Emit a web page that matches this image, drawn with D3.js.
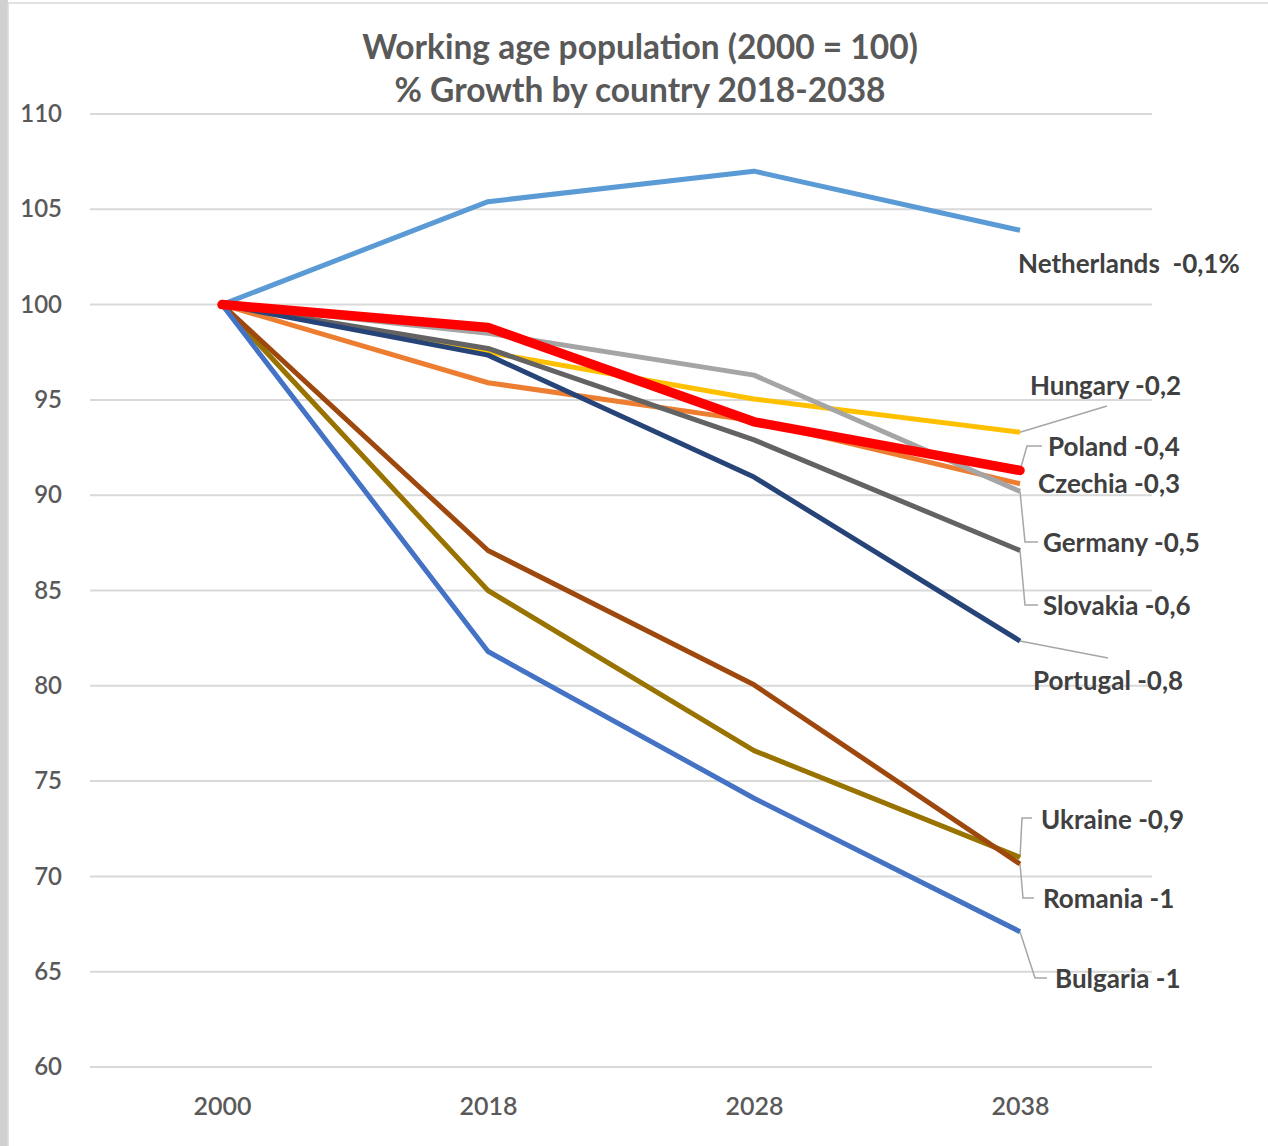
<!DOCTYPE html>
<html>
<head>
<meta charset="utf-8">
<script src="https://cdn.jsdelivr.net/npm/d3@7"></script>
<style>
  body { margin: 0; background: #fff; }
  svg { display: block; font-family: Lato, "Open Sans", sans-serif; }
</style>
</head>
<body>
<svg id="chart" width="1268" height="1146"></svg>
<script>
// Data
const years = ['2000', '2018', '2028', '2038'];
const countries = ['Netherlands', 'Hungary', 'Czechia', 'Germany', 'Slovakia', 'Portugal', 'Ukraine', 'Romania', 'Bulgaria', 'Poland'];
const values = {
  Netherlands: [100, 105.4, 107.0, 103.9],
  Hungary:     [100, 97.5, 95.05, 93.3],
  Czechia:     [100, 95.9, 93.9, 90.6],
  Germany:     [100, 98.5, 96.3, 90.2],
  Slovakia:    [100, 97.7, 92.9, 87.1],
  Portugal:    [100, 97.35, 90.95, 82.35],
  Ukraine:     [100, 85.0, 76.6, 71.0],
  Romania:     [100, 87.1, 80.05, 70.65],
  Bulgaria:    [100, 81.8, 74.1, 67.1],
  Poland:      [100, 98.8, 93.85, 91.3]
};
const growthLabels = {
  Netherlands: 'Netherlands  -0,1%',
  Hungary: 'Hungary -0,2',
  Poland: 'Poland -0,4',
  Czechia: 'Czechia -0,3',
  Germany: 'Germany -0,5',
  Slovakia: 'Slovakia -0,6',
  Portugal: 'Portugal -0,8',
  Ukraine: 'Ukraine -0,9',
  Romania: 'Romania -1',
  Bulgaria: 'Bulgaria -1'
};
const yTicks = [60, 65, 70, 75, 80, 85, 90, 95, 100, 105, 110];

// Styling
const colours = {
  Netherlands: '#5b9bd5', Hungary: '#ffc000', Czechia: '#ed7d31', Germany: '#a5a5a5',
  Slovakia: '#636363', Portugal: '#264478', Ukraine: '#997300', Romania: '#9e480e',
  Bulgaria: '#4472c4', Poland: '#ff0000'
};
// label anchor (x, y) and leader path points, in pixels
const labelLayout = {
  Netherlands: { x: 1018, y: 264, leader: null },
  Hungary:  { x: 1030, y: 386, leader: [[1107, 406]] },
  Poland:   { x: 1048, y: 447, leader: [[1027, 446], [1042, 446]] },
  Czechia:  { x: 1038, y: 484, leader: null },
  Germany:  { x: 1043, y: 543, leader: [[1025, 542], [1038, 542]] },
  Slovakia: { x: 1043, y: 606, leader: [[1025, 605], [1038, 605]] },
  Portugal: { x: 1033, y: 681, leader: [[1108, 658]] },
  Ukraine:  { x: 1041, y: 820, leader: [[1022, 818], [1032, 818]] },
  Romania:  { x: 1043, y: 899, leader: [[1023, 898], [1034, 898]] },
  Bulgaria: { x: 1055, y: 979, leader: [[1035, 978], [1047, 978]] }
};

const svg = d3.select('#chart');

// outer frame
svg.append('rect').attr('x', 0).attr('y', 0).attr('width', 8).attr('height', 1146).attr('fill', '#d0d0d0');
svg.append('rect').attr('x', 8).attr('y', 3).attr('width', 1262).attr('height', 1150)
  .attr('fill', 'none').attr('stroke', '#d9d9d9').attr('stroke-width', 1.5);

const x = d3.scalePoint().domain(years).range([222, 1020]);
const y = d3.scaleLinear().domain([60, 110]).range([1067, 114]);

// gridlines
svg.append('g')
  .selectAll('line')
  .data(yTicks)
  .join('line')
  .attr('x1', 90).attr('x2', 1152)
  .attr('y1', d => y(d)).attr('y2', d => y(d))
  .attr('stroke', '#d9d9d9').attr('stroke-width', 2);

// y axis labels
const yAxis = svg.append('g')
  .attr('transform', 'translate(62,0)')
  .call(d3.axisLeft(y).tickValues(yTicks).tickSize(0).tickPadding(0));
yAxis.select('.domain').remove();
yAxis.selectAll('text')
  .attr('font-size', 24).attr('font-weight', 600).attr('fill', '#595959')
  .attr('font-family', 'Lato, sans-serif');

// x axis labels
const xAxis = svg.append('g')
  .attr('transform', 'translate(0,1097)')
  .call(d3.axisBottom(x).tickSize(0).tickPadding(0));
xAxis.select('.domain').remove();
xAxis.selectAll('text')
  .attr('font-size', 25).attr('font-weight', 600).attr('fill', '#595959')
  .attr('font-family', 'Lato, sans-serif');

// title
const title = svg.append('text')
  .attr('text-anchor', 'middle')
  .attr('font-size', 33.5).attr('font-weight', 700).attr('fill', '#595959');
title.append('tspan').attr('x', 640).attr('y', 59).text('Working age population (2000 = 100)');
title.append('tspan').attr('x', 640).attr('y', 102).text('% Growth by country 2018-2038');

// leader lines
const lastYear = years[years.length - 1];
countries.forEach(c => {
  const lay = labelLayout[c];
  if (!lay.leader) return;
  const start = [x(lastYear), y(values[c][values[c].length - 1])];
  svg.append('path')
    .attr('d', d3.line()([start, ...lay.leader]))
    .attr('fill', 'none').attr('stroke', '#a6a6a6').attr('stroke-width', 1.5);
});

// series lines
const line = d3.line()
  .x((d, i) => x(years[i]))
  .y(d => y(d));
svg.append('g')
  .selectAll('path')
  .data(countries)
  .join('path')
  .attr('d', c => line(values[c]))
  .attr('fill', 'none')
  .attr('stroke', c => colours[c])
  .attr('stroke-width', c => c === 'Poland' ? 9.5 : 5)
  .attr('stroke-linejoin', 'round')
  .attr('stroke-linecap', c => c === 'Poland' ? 'round' : 'butt');

// growth labels
svg.append('g')
  .selectAll('text')
  .data(countries)
  .join('text')
  .attr('x', c => labelLayout[c].x)
  .attr('y', c => labelLayout[c].y)
  .attr('dy', '0.35em')
  .attr('font-size', 26).attr('font-weight', 700).attr('fill', '#404040')
  .style('white-space', 'pre')
  .text(c => growthLabels[c]);
</script>
</body>
</html>
